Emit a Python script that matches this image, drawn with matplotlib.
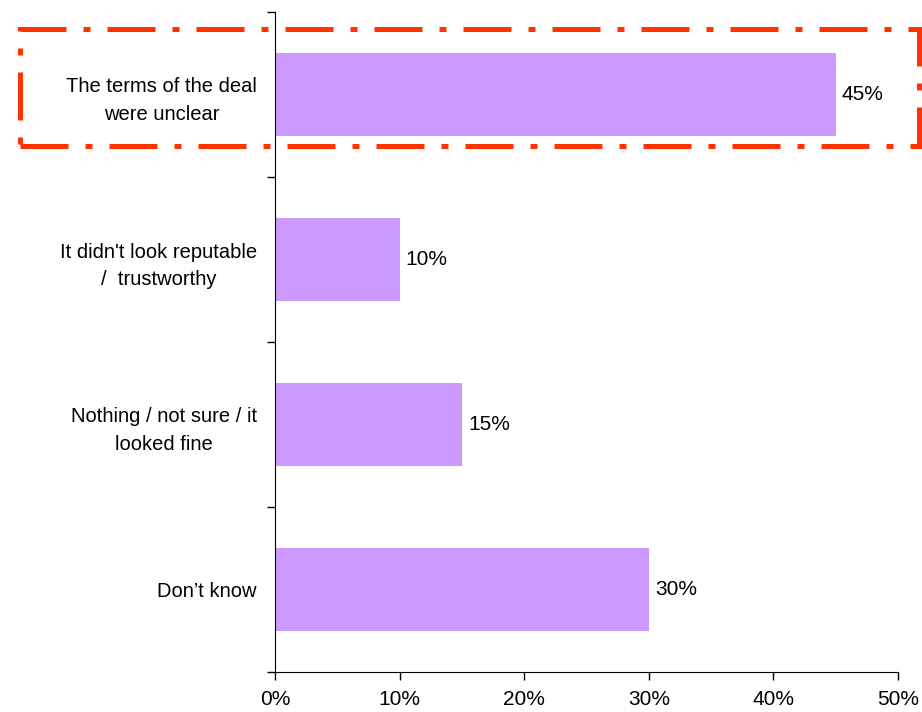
import numpy as np
import matplotlib.pyplot as plt
from matplotlib.patches import Rectangle

plt.rcParams['font.family'] = ['Liberation Sans', 'DejaVu Sans']

# data
categories = ['The terms of the deal\nwere unclear',
              "It didn't look reputable\n/  trustworthy",
              'Nothing / not sure / it\nlooked fine',
              'Don\u2019t know']
values = [45, 10, 15, 30]
xticks = [0, 10, 20, 30, 40, 50]
xtick_labels = ['0%', '10%', '20%', '30%', '40%', '50%']

fig = plt.figure(figsize=(9.22, 7.12), dpi=100)
ax = fig.add_axes([275/922, 1-672/712, (898-275)/922, (672-12)/712])

y = np.arange(len(categories))
ax.barh(y, values, height=0.5, color='#CC99FF')
for yi, v in zip(y, values):
    ax.text(v + 0.5, yi, f'{v}%', va='center', ha='left', fontsize=15)

ax.set_xlim(0, 50)
ax.set_ylim(len(categories) - 0.5, -0.5)
ax.set_xticks(xticks)
ax.set_xticklabels(xtick_labels, fontsize=15)

# boundaries as major ticks, labels on minor ticks at bar centres
ax.set_yticks(np.arange(len(categories) + 1) - 0.5)
ax.set_yticklabels([])
ax.set_yticks(y, minor=True)
ax.set_yticklabels(categories, minor=True, fontsize=14.5,
                   multialignment='center', linespacing=1.55)
ax.tick_params(axis='y', which='minor', length=0, pad=13)
ax.tick_params(axis='y', which='major', length=6, width=1)
ax.tick_params(axis='x', length=6, width=1, pad=7)

ax.spines['top'].set_visible(False)
ax.spines['right'].set_visible(False)

# highlight box
rect = Rectangle((19.5/922, 1-145.5/712), (918.5-19.5)/922, (145.5-28.5)/712,
                 transform=fig.transFigure, fill=False, edgecolor='#FF3300',
                 lw=3.6, linestyle=(0, (9.6, 3.4, 1.4, 3.4)), clip_on=False)
fig.patches.append(rect)

fig.savefig('out.png', dpi=100)
